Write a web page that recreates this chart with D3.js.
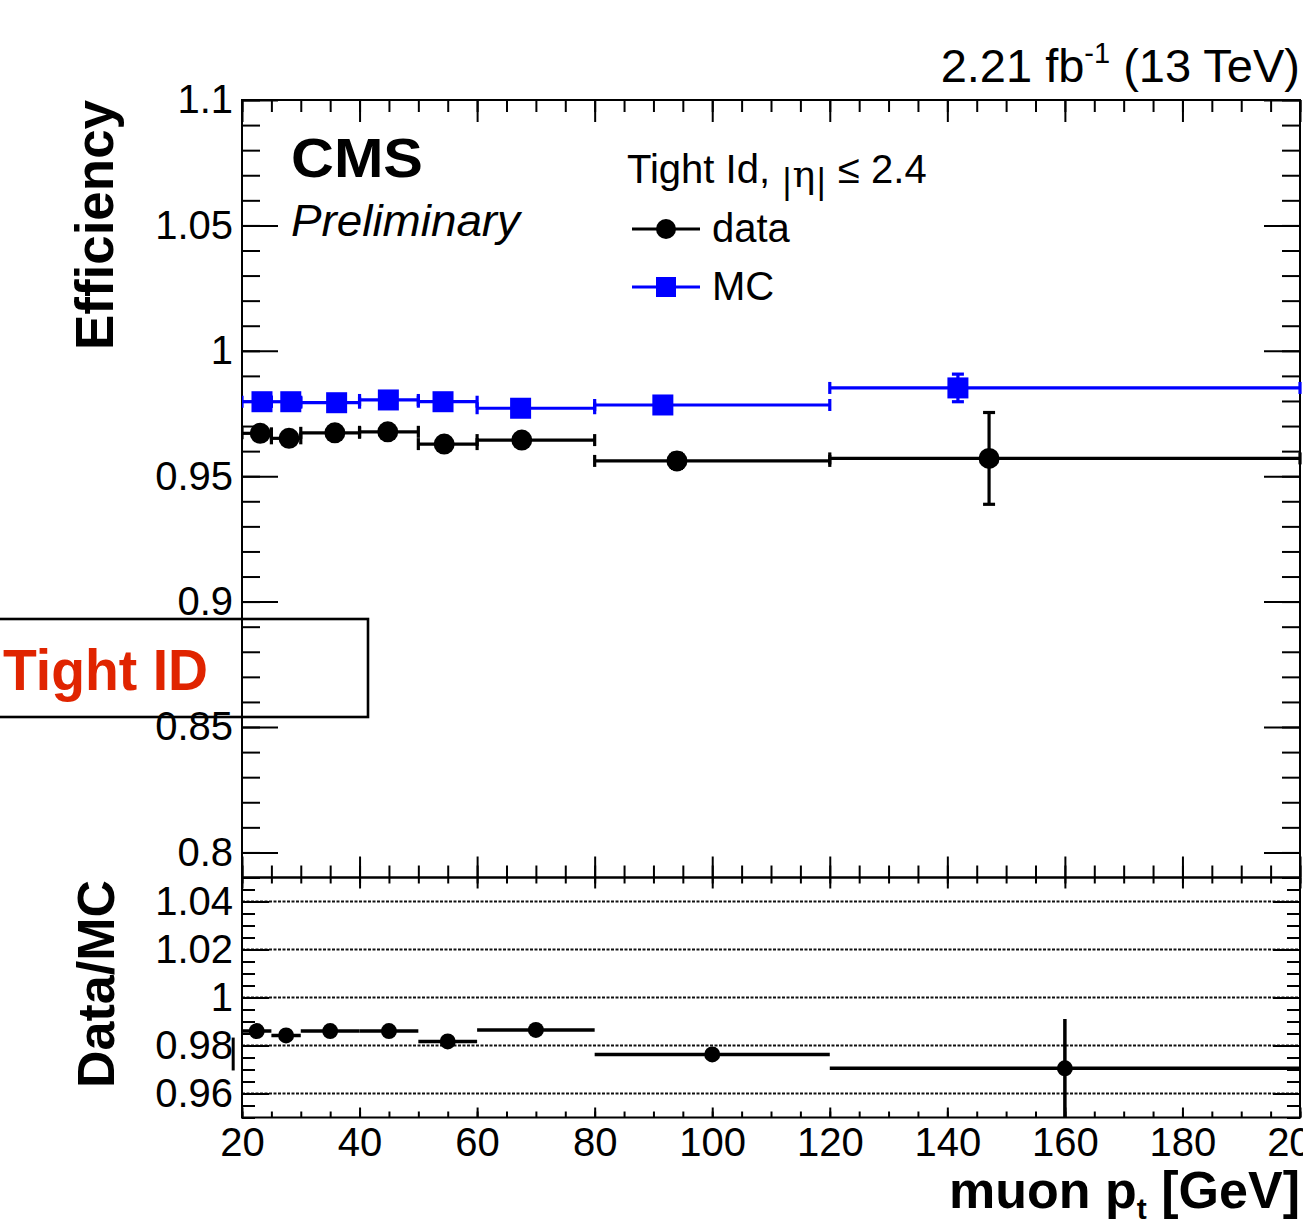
<!DOCTYPE html>
<html>
<head>
<meta charset="utf-8">
<script src="https://cdn.jsdelivr.net/npm/d3@7"></script>
<style>
  html, body { margin: 0; padding: 0; background: #fff; }
  svg { display: block; font-family: "Liberation Sans", Arial, sans-serif; }
</style>
</head>
<body>
<svg width="1303" height="1224"></svg>
<script>
// bins in muon pT [GeV]
var binLow  = [20, 25, 30, 40, 50, 60, 80, 120];
var binHigh = [25, 30, 40, 50, 60, 80, 120, 200];

// efficiency, data
var dataX   = [23.1, 28.0, 35.8, 44.8, 54.4, 67.6, 94.0, 147.1];
var dataEff = [0.9671, 0.9651, 0.9673, 0.9677, 0.9628, 0.9644, 0.9561, 0.9571];
var dataErr = [0.0010, 0.0010, 0.0010, 0.0010, 0.0010, 0.0012, 0.0030, 0.0183];

// efficiency, MC
var mcX   = [23.4, 28.3, 36.1, 44.9, 54.2, 67.4, 91.6, 141.8];
var mcEff = [0.9797, 0.9797, 0.9793, 0.9804, 0.9797, 0.9771, 0.9784, 0.9852];
var mcErr = [0.0008, 0.0008, 0.0008, 0.0008, 0.0008, 0.0010, 0.0015, 0.0055];

// data / MC
var ratioX   = [22.5, 27.5, 35, 45, 55, 70, 100, 160];
var ratioVal = [0.9860, 0.9842, 0.9860, 0.9860, 0.9817, 0.9865, 0.9763, 0.9705];
var ratioErr = [0.0008, 0.0008, 0.0008, 0.0008, 0.0008, 0.0010, 0.0020, 0.0205];

// stray error bar left of the ratio axis
var strayX = [18.5];
var strayLow = [0.9696];
var strayHigh = [0.9833];

// tick labels
var xTicks = [20, 40, 60, 80, 100, 120, 140, 160, 180, 200];
var effTicks = [0.8, 0.85, 0.9, 0.95, 1, 1.05, 1.1];
var ratioTicks = [0.96, 0.98, 1, 1.02, 1.04];

var svg = d3.select('svg');

var left = 242, right = 1300;
var mainTop = 100, mainBottom = 877.5, ratioBottom = 1117.5;

var x = d3.scaleLinear().domain([20, 200]).range([left, right]);
var yEff = d3.scaleLinear().domain([0.79, 1.1]).range([mainBottom, mainTop]);
var yRatio = d3.scaleLinear().domain([0.95, 1.05]).range([ratioBottom, mainBottom]);

var xMinor = d3.range(20, 200.01, 5);
var effMinor = d3.range(0.79, 1.1001, 0.01);
var ratioMinor = d3.range(0.95, 1.0501, 0.005);

var bins = binLow.map((lo, i) => ({
    lo, hi: binHigh[i],
    dx: dataX[i], dy: dataEff[i], de: dataErr[i],
    mx: mcX[i], my: mcEff[i], me: mcErr[i],
    rx: ratioX[i], ry: ratioVal[i], re: ratioErr[i]
}));

// clip paths ********************************************************
var defs = svg.append('defs');
defs.append('clipPath').attr('id', 'clipMain').append('rect')
    .attr('x', left).attr('y', mainTop)
    .attr('width', right - left + 2).attr('height', mainBottom - mainTop);
defs.append('clipPath').attr('id', 'clipRatio').append('rect')
    .attr('x', left).attr('y', mainBottom)
    .attr('width', right - left + 2).attr('height', ratioBottom - mainBottom);

// ratio grid ********************************************************
svg.append('g').selectAll('line')
    .data(ratioTicks)
    .enter().append('line')
    .attr('x1', left).attr('x2', right)
    .attr('y1', d => yRatio(d)).attr('y2', d => yRatio(d))
    .attr('stroke', '#111')
    .attr('stroke-width', 2)
    .attr('stroke-dasharray', '3,1.5');

// axes **************************************************************
function fmt(d) { return String(+d.toFixed(2)); }

function addAxis(axis, tx, ty, values, size, labels, pad) {
    var g = svg.append('g')
        .attr('transform', `translate(${tx},${ty})`)
        .call(axis.tickValues(values).tickSizeInner(size).tickSizeOuter(0)
            .tickPadding(pad || 0).tickFormat(labels ? fmt : () => ''));
    g.select('.domain').remove();
    g.selectAll('line').attr('stroke', '#000').attr('stroke-width', 2);
    g.attr('font-family', null).attr('font-size', 40);
    g.selectAll('text').attr('fill', '#000');
    return g;
}

// main panel
addAxis(d3.axisLeft(yEff), left, 0, effMinor, -18);
addAxis(d3.axisLeft(yEff), left, 0, effTicks, -36, true, 9);
addAxis(d3.axisRight(yEff), right, 0, effMinor, -18);
addAxis(d3.axisRight(yEff), right, 0, effTicks, -36);
addAxis(d3.axisTop(x), 0, mainTop, xMinor, -12);
addAxis(d3.axisTop(x), 0, mainTop, xTicks, -22);
addAxis(d3.axisBottom(x), 0, mainBottom, xMinor, -12);
addAxis(d3.axisBottom(x), 0, mainBottom, xTicks, -21);

// ratio panel
addAxis(d3.axisLeft(yRatio), left, 0, ratioMinor, -13);
addAxis(d3.axisLeft(yRatio), left, 0, ratioTicks, -27, true, 9);
addAxis(d3.axisRight(yRatio), right, 0, ratioMinor, -13);
addAxis(d3.axisRight(yRatio), right, 0, ratioTicks, -27);
addAxis(d3.axisTop(x), 0, mainBottom, xMinor, -6);
addAxis(d3.axisTop(x), 0, mainBottom, xTicks, -11);
addAxis(d3.axisBottom(x), 0, ratioBottom, xMinor, -6);
addAxis(d3.axisBottom(x), 0, ratioBottom, xTicks, -10, true, 10);

// frames
svg.append('rect')
    .attr('x', left).attr('y', mainTop)
    .attr('width', right - left).attr('height', mainBottom - mainTop)
    .attr('fill', 'none').attr('stroke', '#000').attr('stroke-width', 2);
svg.append('rect')
    .attr('x', left).attr('y', mainBottom)
    .attr('width', right - left).attr('height', ratioBottom - mainBottom)
    .attr('fill', 'none').attr('stroke', '#000').attr('stroke-width', 2);

// efficiency points *************************************************
function drawSeries(g, color, getX, getY, getE, marker) {
    var cap = 6;
    var sel = g.selectAll('g.pt').data(bins).enter().append('g').attr('class', 'pt');
    sel.append('line')
        .attr('x1', d => x(d.lo)).attr('x2', d => x(d.hi))
        .attr('y1', d => yEff(getY(d))).attr('y2', d => yEff(getY(d)));
    sel.append('line')
        .attr('x1', d => x(d.lo)).attr('x2', d => x(d.lo))
        .attr('y1', d => yEff(getY(d)) - cap).attr('y2', d => yEff(getY(d)) + cap);
    sel.append('line')
        .attr('x1', d => x(d.hi)).attr('x2', d => x(d.hi))
        .attr('y1', d => yEff(getY(d)) - cap).attr('y2', d => yEff(getY(d)) + cap);
    sel.append('line')
        .attr('x1', d => x(getX(d))).attr('x2', d => x(getX(d)))
        .attr('y1', d => yEff(getY(d) + getE(d))).attr('y2', d => yEff(getY(d) - getE(d)));
    sel.append('line')
        .attr('x1', d => x(getX(d)) - cap).attr('x2', d => x(getX(d)) + cap)
        .attr('y1', d => yEff(getY(d) + getE(d))).attr('y2', d => yEff(getY(d) + getE(d)));
    sel.append('line')
        .attr('x1', d => x(getX(d)) - cap).attr('x2', d => x(getX(d)) + cap)
        .attr('y1', d => yEff(getY(d) - getE(d))).attr('y2', d => yEff(getY(d) - getE(d)));
    sel.selectAll('line').attr('stroke', color).attr('stroke-width', 3.2);
    if (marker === 'square') {
        sel.append('rect')
            .attr('x', d => x(getX(d)) - 10.5).attr('y', d => yEff(getY(d)) - 10.5)
            .attr('width', 21).attr('height', 21)
            .attr('fill', color);
    } else {
        sel.append('circle')
            .attr('cx', d => x(getX(d))).attr('cy', d => yEff(getY(d)))
            .attr('r', 10.5)
            .attr('fill', color);
    }
}

var mainPlot = svg.append('g').attr('clip-path', 'url(#clipMain)');
drawSeries(mainPlot.append('g'), '#0000ff', d => d.mx, d => d.my, d => d.me, 'square');
drawSeries(mainPlot.append('g'), '#000', d => d.dx, d => d.dy, d => d.de, 'circle');

// ratio points ******************************************************
var ratioPlot = svg.append('g').attr('clip-path', 'url(#clipRatio)');
var rp = ratioPlot.selectAll('g').data(bins).enter().append('g');
rp.append('line')
    .attr('x1', d => x(d.lo)).attr('x2', d => x(d.hi))
    .attr('y1', d => yRatio(d.ry)).attr('y2', d => yRatio(d.ry));
rp.append('line')
    .attr('x1', d => x(d.rx)).attr('x2', d => x(d.rx))
    .attr('y1', d => yRatio(d.ry + d.re)).attr('y2', d => yRatio(d.ry - d.re));
rp.selectAll('line').attr('stroke', '#000').attr('stroke-width', 3.5);
rp.append('circle')
    .attr('cx', d => x(d.rx)).attr('cy', d => yRatio(d.ry))
    .attr('r', 8)
    .attr('fill', '#000');

svg.append('g').selectAll('line')
    .data(strayX)
    .enter().append('line')
    .attr('x1', d => x(d)).attr('x2', d => x(d))
    .attr('y1', (d, i) => yRatio(strayHigh[i])).attr('y2', (d, i) => yRatio(strayLow[i]))
    .attr('stroke', '#000').attr('stroke-width', 3);

// texts *************************************************************
svg.append('text')
    .attr('x', 1300).attr('y', 82)
    .attr('text-anchor', 'end')
    .attr('font-size', 47)
    .call(t => {
        t.append('tspan').text('2.21 fb');
        t.append('tspan').attr('font-size', 29).attr('dy', -19).text('-1');
        t.append('tspan').attr('dy', 19).text(' (13 TeV)');
    });

svg.append('text')
    .attr('x', 291).attr('y', 177)
    .attr('font-size', 55).attr('font-weight', 'bold')
    .attr('textLength', 132).attr('lengthAdjust', 'spacingAndGlyphs')
    .text('CMS');

svg.append('text')
    .attr('x', 291).attr('y', 236)
    .attr('font-size', 44).attr('font-style', 'italic')
    .attr('textLength', 229).attr('lengthAdjust', 'spacingAndGlyphs')
    .text('Preliminary');

svg.append('text')
    .attr('transform', 'translate(113,100) rotate(-90)')
    .attr('text-anchor', 'end')
    .attr('font-size', 53).attr('font-weight', 'bold')
    .attr('textLength', 250).attr('lengthAdjust', 'spacingAndGlyphs')
    .text('Efficiency');

svg.append('text')
    .attr('transform', 'translate(114,880) rotate(-90)')
    .attr('text-anchor', 'end')
    .attr('font-size', 52).attr('font-weight', 'bold')
    .attr('textLength', 208).attr('lengthAdjust', 'spacingAndGlyphs')
    .text('Data/MC');

svg.append('text')
    .attr('x', 1300).attr('y', 1208)
    .attr('text-anchor', 'end')
    .attr('font-size', 52).attr('font-weight', 'bold')
    .call(t => {
        t.append('tspan').text('muon p');
        t.append('tspan').attr('font-size', 30).attr('dy', 11).text('t');
        t.append('tspan').attr('dy', -11).text(' [GeV]');
    });

// legend
svg.append('text')
    .attr('x', 627).attr('y', 183)
    .attr('font-size', 40)
    .call(t => {
        t.append('tspan').text('Tight Id, ');
        t.append('tspan').attr('font-family', 'DejaVu Sans').attr('font-size', 34).attr('dy', 10).text('|');
        t.append('tspan').attr('font-family', '"DejaVu Serif", serif').attr('font-size', 38).attr('dy', -6).text('η');
        t.append('tspan').attr('font-family', 'DejaVu Sans').attr('font-size', 34).attr('dy', 6).text('|');
        t.append('tspan').attr('dy', -10).text(' ≤ 2.4');
    });

var legend = svg.append('g');
legend.append('line').attr('x1', 632).attr('x2', 700).attr('y1', 229).attr('y2', 229)
    .attr('stroke', '#000').attr('stroke-width', 3.2);
legend.append('circle').attr('cx', 666).attr('cy', 229).attr('r', 10).attr('fill', '#000');
legend.append('text').attr('x', 712).attr('y', 242).attr('font-size', 40).text('data');
legend.append('line').attr('x1', 632).attr('x2', 700).attr('y1', 287).attr('y2', 287)
    .attr('stroke', '#0000ff').attr('stroke-width', 3.2);
legend.append('rect').attr('x', 656).attr('y', 277).attr('width', 20).attr('height', 20).attr('fill', '#0000ff');
legend.append('text').attr('x', 712).attr('y', 300).attr('font-size', 40).text('MC');

// Tight ID box
svg.append('rect')
    .attr('x', -5).attr('y', 619)
    .attr('width', 373).attr('height', 98)
    .attr('fill', 'none').attr('stroke', '#000').attr('stroke-width', 2.6);
svg.append('text')
    .attr('x', 3).attr('y', 690)
    .attr('font-size', 58).attr('font-weight', 'bold')
    .attr('fill', '#e02400')
    .attr('textLength', 205).attr('lengthAdjust', 'spacingAndGlyphs')
    .text('Tight ID');
</script>
</body>
</html>
